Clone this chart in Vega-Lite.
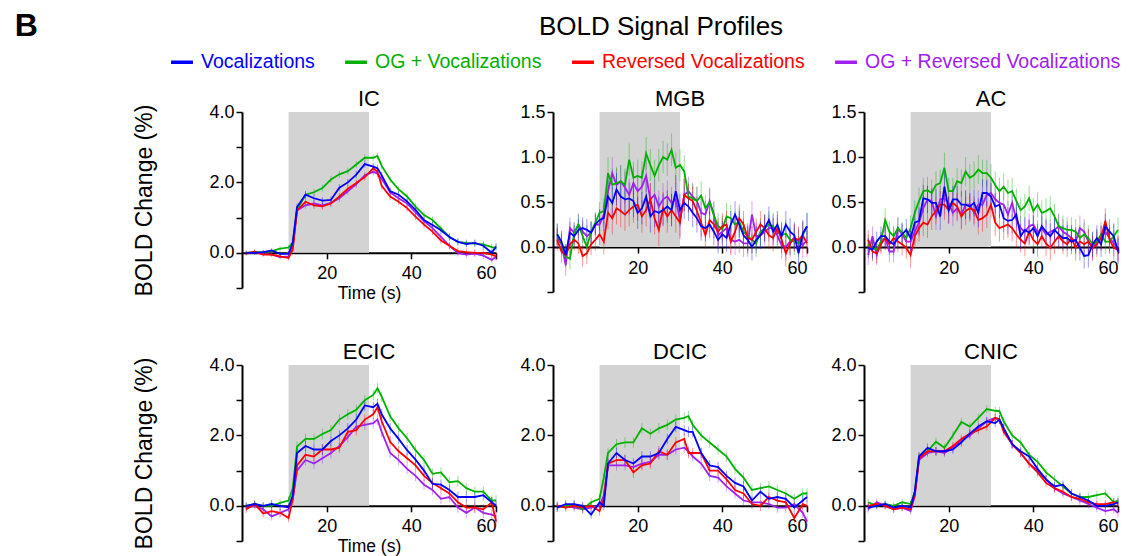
{
"$schema": "https://vega.github.io/schema/vega-lite/v6.json",
"padding": {"left": 14, "top": 10, "right": 0, "bottom": 0},
"config": {
 "font": "Liberation Sans",
 "view": {"stroke": null},
 "axis": {"grid": false, "domainColor": "black", "domainWidth": 2, "tickColor": "black", "tickWidth": 1.5, "tickSize": 6, "labelFont": "Liberation Sans", "labelFontSize": 18, "labelColor": "black", "titleFont": "Liberation Sans", "titleColor": "black", "titleFontWeight": "normal", "zindex": 1, "labelOverlap": false},
 "title": {"font": "Liberation Sans", "fontSize": 22, "fontWeight": "normal", "color": "black", "offset": -8, "frame": "group"}
},
"title": {"text": "B", "orient": "left", "anchor": "end", "angle": 0, "align": "right", "baseline": "top", "offset": 73, "dy": -3, "fontSize": 32, "fontWeight": "bold", "frame": "bounds"},
"data": {"values": [
{"p":"IC","t":1,"V":0.0,"G":0.0,"R":-0.02,"P":0.0,"E":0.06},
{"p":"IC","t":3,"V":0.0,"G":0.02,"R":0.03,"P":0.02,"E":0.06},
{"p":"IC","t":5,"V":0.02,"G":0.02,"R":-0.05,"P":-0.03,"E":0.06},
{"p":"IC","t":7,"V":0.07,"G":0.05,"R":-0.05,"P":-0.05,"E":0.06},
{"p":"IC","t":9,"V":-0.03,"G":0.12,"R":-0.1,"P":-0.12,"E":0.07},
{"p":"IC","t":11,"V":-0.03,"G":0.15,"R":-0.15,"P":-0.1,"E":0.07},
{"p":"IC","t":12,"V":0.3,"G":0.3,"R":0.1,"P":0.2,"E":0.08},
{"p":"IC","t":13,"V":1.3,"G":1.22,"R":1.2,"P":1.2,"E":0.1},
{"p":"IC","t":15,"V":1.65,"G":1.65,"R":1.45,"P":1.35,"E":0.1},
{"p":"IC","t":17,"V":1.55,"G":1.72,"R":1.35,"P":1.4,"E":0.1},
{"p":"IC","t":19,"V":1.48,"G":1.84,"R":1.32,"P":1.35,"E":0.1},
{"p":"IC","t":21,"V":1.5,"G":2.08,"R":1.4,"P":1.42,"E":0.1},
{"p":"IC","t":23,"V":1.85,"G":2.23,"R":1.6,"P":1.55,"E":0.1},
{"p":"IC","t":25,"V":2.0,"G":2.32,"R":1.82,"P":1.75,"E":0.1},
{"p":"IC","t":27,"V":2.22,"G":2.51,"R":1.98,"P":1.95,"E":0.1},
{"p":"IC","t":29,"V":2.52,"G":2.7,"R":2.15,"P":2.2,"E":0.1},
{"p":"IC","t":31,"V":2.45,"G":2.7,"R":2.4,"P":2.3,"E":0.1},
{"p":"IC","t":32,"V":2.4,"G":2.75,"R":2.3,"P":2.25,"E":0.1},
{"p":"IC","t":33,"V":2.2,"G":2.47,"R":1.9,"P":2.1,"E":0.1},
{"p":"IC","t":35,"V":1.75,"G":2.08,"R":1.6,"P":1.72,"E":0.1},
{"p":"IC","t":37,"V":1.65,"G":1.8,"R":1.45,"P":1.55,"E":0.1},
{"p":"IC","t":39,"V":1.46,"G":1.6,"R":1.27,"P":1.4,"E":0.1},
{"p":"IC","t":41,"V":1.22,"G":1.31,"R":1.03,"P":1.15,"E":0.1},
{"p":"IC","t":43,"V":0.93,"G":1.07,"R":0.8,"P":0.9,"E":0.1},
{"p":"IC","t":45,"V":0.79,"G":0.93,"R":0.6,"P":0.7,"E":0.1},
{"p":"IC","t":47,"V":0.64,"G":0.69,"R":0.35,"P":0.45,"E":0.1},
{"p":"IC","t":49,"V":0.45,"G":0.45,"R":0.2,"P":0.2,"E":0.1},
{"p":"IC","t":51,"V":0.31,"G":0.31,"R":0.05,"P":0.0,"E":0.1},
{"p":"IC","t":53,"V":0.25,"G":0.28,"R":0.02,"P":-0.05,"E":0.1},
{"p":"IC","t":55,"V":0.28,"G":0.26,"R":0.0,"P":-0.02,"E":0.1},
{"p":"IC","t":57,"V":0.2,"G":0.24,"R":0.0,"P":-0.08,"E":0.1},
{"p":"IC","t":59,"V":0.0,"G":0.16,"R":-0.05,"P":-0.2,"E":0.1},
{"p":"IC","t":60,"V":0.18,"G":0.14,"R":-0.1,"P":-0.12,"E":0.1},
{"p":"ECIC","t":1,"V":0.0,"G":0.0,"R":-0.1,"P":-0.05,"E":0.1},
{"p":"ECIC","t":3,"V":0.05,"G":0.05,"R":0.05,"P":0.0,"E":0.1},
{"p":"ECIC","t":5,"V":0.0,"G":0.0,"R":-0.22,"P":-0.1,"E":0.1},
{"p":"ECIC","t":7,"V":0.05,"G":0.0,"R":-0.15,"P":-0.3,"E":0.12},
{"p":"ECIC","t":9,"V":0.0,"G":0.08,"R":-0.2,"P":-0.2,"E":0.12},
{"p":"ECIC","t":11,"V":-0.05,"G":0.15,"R":-0.35,"P":-0.1,"E":0.12},
{"p":"ECIC","t":12,"V":0.3,"G":0.5,"R":0.2,"P":0.2,"E":0.12},
{"p":"ECIC","t":13,"V":1.5,"G":1.68,"R":1.15,"P":1.0,"E":0.15},
{"p":"ECIC","t":15,"V":1.7,"G":1.9,"R":1.45,"P":1.3,"E":0.15},
{"p":"ECIC","t":17,"V":1.6,"G":1.9,"R":1.4,"P":1.2,"E":0.15},
{"p":"ECIC","t":19,"V":1.6,"G":2.04,"R":1.6,"P":1.35,"E":0.15},
{"p":"ECIC","t":21,"V":1.84,"G":2.15,"R":1.6,"P":1.5,"E":0.15},
{"p":"ECIC","t":23,"V":2.0,"G":2.45,"R":1.65,"P":1.7,"E":0.15},
{"p":"ECIC","t":25,"V":2.2,"G":2.6,"R":2.1,"P":1.95,"E":0.15},
{"p":"ECIC","t":27,"V":2.45,"G":2.73,"R":2.15,"P":2.25,"E":0.15},
{"p":"ECIC","t":29,"V":2.85,"G":3.0,"R":2.45,"P":2.3,"E":0.15},
{"p":"ECIC","t":31,"V":2.8,"G":3.15,"R":2.6,"P":2.35,"E":0.15},
{"p":"ECIC","t":32,"V":2.9,"G":3.34,"R":2.8,"P":2.45,"E":0.15},
{"p":"ECIC","t":33,"V":2.6,"G":3.1,"R":2.4,"P":2.1,"E":0.15},
{"p":"ECIC","t":35,"V":2.2,"G":2.54,"R":1.82,"P":1.5,"E":0.15},
{"p":"ECIC","t":37,"V":1.9,"G":2.2,"R":1.55,"P":1.3,"E":0.15},
{"p":"ECIC","t":39,"V":1.58,"G":1.92,"R":1.35,"P":1.05,"E":0.15},
{"p":"ECIC","t":41,"V":1.31,"G":1.58,"R":1.15,"P":0.85,"E":0.15},
{"p":"ECIC","t":43,"V":1.0,"G":1.3,"R":0.85,"P":0.6,"E":0.15},
{"p":"ECIC","t":45,"V":0.62,"G":0.91,"R":0.65,"P":0.45,"E":0.15},
{"p":"ECIC","t":47,"V":0.6,"G":0.95,"R":0.5,"P":0.2,"E":0.15},
{"p":"ECIC","t":49,"V":0.45,"G":0.67,"R":0.35,"P":0.25,"E":0.15},
{"p":"ECIC","t":51,"V":0.25,"G":0.7,"R":0.1,"P":-0.05,"E":0.15},
{"p":"ECIC","t":53,"V":0.25,"G":0.5,"R":-0.05,"P":-0.2,"E":0.15},
{"p":"ECIC","t":55,"V":0.25,"G":0.4,"R":-0.05,"P":-0.05,"E":0.15},
{"p":"ECIC","t":57,"V":0.3,"G":0.4,"R":-0.1,"P":-0.2,"E":0.15},
{"p":"ECIC","t":59,"V":0.1,"G":0.15,"R":0.1,"P":-0.25,"E":0.15},
{"p":"ECIC","t":60,"V":0.0,"G":0.15,"R":-0.45,"P":-0.3,"E":0.15},
{"p":"DCIC","t":1,"V":-0.05,"G":-0.05,"R":0.0,"P":0.0,"E":0.12},
{"p":"DCIC","t":3,"V":0.05,"G":0.0,"R":-0.05,"P":0.0,"E":0.12},
{"p":"DCIC","t":5,"V":0.05,"G":0.02,"R":0.0,"P":-0.05,"E":0.12},
{"p":"DCIC","t":7,"V":0.0,"G":-0.1,"R":-0.05,"P":-0.1,"E":0.12},
{"p":"DCIC","t":9,"V":-0.25,"G":0.1,"R":0.0,"P":-0.05,"E":0.12},
{"p":"DCIC","t":11,"V":0.1,"G":0.2,"R":-0.15,"P":0.0,"E":0.12},
{"p":"DCIC","t":12,"V":0.0,"G":0.8,"R":0.2,"P":0.3,"E":0.12},
{"p":"DCIC","t":13,"V":1.2,"G":1.5,"R":1.2,"P":1.15,"E":0.15},
{"p":"DCIC","t":15,"V":1.5,"G":1.75,"R":1.3,"P":1.15,"E":0.15},
{"p":"DCIC","t":17,"V":1.3,"G":1.8,"R":1.3,"P":1.15,"E":0.15},
{"p":"DCIC","t":19,"V":1.2,"G":1.8,"R":0.95,"P":1.1,"E":0.15},
{"p":"DCIC","t":21,"V":1.4,"G":2.2,"R":1.15,"P":1.2,"E":0.15},
{"p":"DCIC","t":23,"V":1.4,"G":2.05,"R":1.2,"P":1.25,"E":0.15},
{"p":"DCIC","t":25,"V":1.5,"G":2.2,"R":1.55,"P":1.45,"E":0.15},
{"p":"DCIC","t":27,"V":1.9,"G":2.3,"R":1.45,"P":1.45,"E":0.15},
{"p":"DCIC","t":29,"V":2.24,"G":2.45,"R":1.8,"P":1.6,"E":0.15},
{"p":"DCIC","t":31,"V":2.15,"G":2.5,"R":1.9,"P":1.65,"E":0.15},
{"p":"DCIC","t":32,"V":2.1,"G":2.55,"R":1.5,"P":1.55,"E":0.15},
{"p":"DCIC","t":33,"V":2.1,"G":2.3,"R":1.5,"P":1.4,"E":0.15},
{"p":"DCIC","t":35,"V":1.5,"G":2.0,"R":1.5,"P":1.2,"E":0.15},
{"p":"DCIC","t":37,"V":1.15,"G":1.8,"R":1.0,"P":0.85,"E":0.15},
{"p":"DCIC","t":39,"V":1.1,"G":1.6,"R":1.0,"P":0.8,"E":0.15},
{"p":"DCIC","t":41,"V":0.85,"G":1.4,"R":0.75,"P":0.55,"E":0.15},
{"p":"DCIC","t":43,"V":0.65,"G":1.05,"R":0.45,"P":0.35,"E":0.15},
{"p":"DCIC","t":45,"V":0.55,"G":0.8,"R":0.35,"P":0.15,"E":0.15},
{"p":"DCIC","t":47,"V":0.15,"G":0.45,"R":0.05,"P":0.1,"E":0.15},
{"p":"DCIC","t":49,"V":0.4,"G":0.5,"R":0.0,"P":0.1,"E":0.15},
{"p":"DCIC","t":51,"V":0.2,"G":0.55,"R":0.25,"P":0.05,"E":0.15},
{"p":"DCIC","t":53,"V":0.25,"G":0.45,"R":0.15,"P":-0.05,"E":0.15},
{"p":"DCIC","t":55,"V":0.2,"G":0.35,"R":0.1,"P":-0.05,"E":0.15},
{"p":"DCIC","t":57,"V":-0.05,"G":0.2,"R":-0.35,"P":0.05,"E":0.15},
{"p":"DCIC","t":59,"V":0.15,"G":0.35,"R":0.05,"P":-0.2,"E":0.15},
{"p":"DCIC","t":60,"V":0.25,"G":0.35,"R":0.0,"P":-0.45,"E":0.15},
{"p":"CNIC","t":1,"V":-0.05,"G":0.1,"R":0.0,"P":-0.1,"E":0.1},
{"p":"CNIC","t":3,"V":0.0,"G":0.0,"R":0.05,"P":0.1,"E":0.1},
{"p":"CNIC","t":5,"V":0.05,"G":0.05,"R":0.0,"P":0.0,"E":0.1},
{"p":"CNIC","t":7,"V":-0.05,"G":0.0,"R":-0.1,"P":-0.1,"E":0.1},
{"p":"CNIC","t":9,"V":0.0,"G":0.1,"R":-0.05,"P":-0.05,"E":0.1},
{"p":"CNIC","t":11,"V":-0.05,"G":0.05,"R":-0.1,"P":-0.15,"E":0.1},
{"p":"CNIC","t":12,"V":0.4,"G":0.4,"R":0.3,"P":0.3,"E":0.1},
{"p":"CNIC","t":13,"V":1.4,"G":1.4,"R":1.35,"P":1.3,"E":0.12},
{"p":"CNIC","t":15,"V":1.65,"G":1.55,"R":1.55,"P":1.5,"E":0.12},
{"p":"CNIC","t":17,"V":1.55,"G":1.82,"R":1.55,"P":1.55,"E":0.12},
{"p":"CNIC","t":19,"V":1.55,"G":1.65,"R":1.55,"P":1.5,"E":0.12},
{"p":"CNIC","t":21,"V":1.6,"G":2.0,"R":1.7,"P":1.65,"E":0.12},
{"p":"CNIC","t":23,"V":1.8,"G":2.38,"R":1.9,"P":1.85,"E":0.12},
{"p":"CNIC","t":25,"V":2.05,"G":2.25,"R":2.05,"P":2.0,"E":0.12},
{"p":"CNIC","t":27,"V":2.25,"G":2.5,"R":2.15,"P":2.2,"E":0.12},
{"p":"CNIC","t":29,"V":2.4,"G":2.75,"R":2.25,"P":2.4,"E":0.12},
{"p":"CNIC","t":31,"V":2.35,"G":2.7,"R":2.5,"P":2.5,"E":0.12},
{"p":"CNIC","t":32,"V":2.45,"G":2.69,"R":2.45,"P":2.45,"E":0.12},
{"p":"CNIC","t":33,"V":2.2,"G":2.4,"R":2.1,"P":2.2,"E":0.12},
{"p":"CNIC","t":35,"V":1.75,"G":2.0,"R":1.75,"P":1.75,"E":0.12},
{"p":"CNIC","t":37,"V":1.55,"G":1.8,"R":1.5,"P":1.5,"E":0.12},
{"p":"CNIC","t":39,"V":1.4,"G":1.45,"R":1.2,"P":1.2,"E":0.12},
{"p":"CNIC","t":41,"V":1.05,"G":1.25,"R":0.95,"P":1.0,"E":0.12},
{"p":"CNIC","t":43,"V":0.75,"G":0.95,"R":0.65,"P":0.75,"E":0.12},
{"p":"CNIC","t":45,"V":0.55,"G":0.75,"R":0.5,"P":0.5,"E":0.12},
{"p":"CNIC","t":47,"V":0.6,"G":0.55,"R":0.4,"P":0.35,"E":0.12},
{"p":"CNIC","t":49,"V":0.35,"G":0.35,"R":0.25,"P":0.25,"E":0.12},
{"p":"CNIC","t":51,"V":0.25,"G":0.25,"R":0.2,"P":0.15,"E":0.12},
{"p":"CNIC","t":53,"V":0.15,"G":0.25,"R":0.1,"P":0.05,"E":0.12},
{"p":"CNIC","t":55,"V":0.0,"G":0.3,"R":0.05,"P":-0.05,"E":0.12},
{"p":"CNIC","t":57,"V":0.0,"G":0.35,"R":0.05,"P":-0.15,"E":0.12},
{"p":"CNIC","t":59,"V":0.05,"G":0.1,"R":0.1,"P":-0.1,"E":0.12},
{"p":"CNIC","t":60,"V":0.1,"G":0.15,"R":0.05,"P":-0.2,"E":0.12},
{"p":"MGB","t":1,"V":0.14,"G":0.14,"R":0.08,"P":0.1,"E":0.12},
{"p":"MGB","t":2,"V":0.06,"G":0.04,"R":-0.05,"P":0.03,"E":0.12},
{"p":"MGB","t":3,"V":-0.09,"G":-0.11,"R":-0.09,"P":-0.2,"E":0.12},
{"p":"MGB","t":4,"V":0.16,"G":-0.13,"R":0.03,"P":0.21,"E":0.12},
{"p":"MGB","t":5,"V":0.12,"G":0.15,"R":0.08,"P":0.16,"E":0.12},
{"p":"MGB","t":6,"V":0.19,"G":0.25,"R":0.04,"P":0.25,"E":0.12},
{"p":"MGB","t":7,"V":0.21,"G":0.12,"R":-0.1,"P":0.17,"E":0.12},
{"p":"MGB","t":8,"V":0.19,"G":0.0,"R":-0.07,"P":0.12,"E":0.12},
{"p":"MGB","t":9,"V":0.16,"G":0.17,"R":0.03,"P":0.16,"E":0.12},
{"p":"MGB","t":10,"V":0.25,"G":0.27,"R":0.08,"P":0.25,"E":0.12},
{"p":"MGB","t":11,"V":0.3,"G":0.38,"R":0.14,"P":0.25,"E":0.12},
{"p":"MGB","t":12,"V":0.32,"G":0.4,"R":0.06,"P":0.36,"E":0.14},
{"p":"MGB","t":13,"V":0.56,"G":0.82,"R":0.38,"P":0.62,"E":0.18},
{"p":"MGB","t":14,"V":0.49,"G":0.69,"R":0.32,"P":0.82,"E":0.18},
{"p":"MGB","t":15,"V":0.64,"G":0.71,"R":0.43,"P":0.69,"E":0.18},
{"p":"MGB","t":16,"V":0.56,"G":0.73,"R":0.4,"P":0.73,"E":0.18},
{"p":"MGB","t":17,"V":0.53,"G":0.69,"R":0.36,"P":0.66,"E":0.18},
{"p":"MGB","t":18,"V":0.54,"G":0.97,"R":0.41,"P":0.58,"E":0.18},
{"p":"MGB","t":19,"V":0.51,"G":0.77,"R":0.45,"P":0.71,"E":0.18},
{"p":"MGB","t":20,"V":0.38,"G":0.79,"R":0.47,"P":0.62,"E":0.18},
{"p":"MGB","t":21,"V":0.43,"G":0.77,"R":0.34,"P":0.67,"E":0.18},
{"p":"MGB","t":22,"V":0.56,"G":1.04,"R":0.41,"P":0.79,"E":0.18},
{"p":"MGB","t":23,"V":0.34,"G":0.91,"R":0.53,"P":0.53,"E":0.18},
{"p":"MGB","t":24,"V":0.4,"G":0.79,"R":0.32,"P":0.58,"E":0.18},
{"p":"MGB","t":25,"V":0.38,"G":0.91,"R":0.19,"P":0.45,"E":0.18},
{"p":"MGB","t":26,"V":0.41,"G":1.0,"R":0.43,"P":0.53,"E":0.18},
{"p":"MGB","t":27,"V":0.45,"G":0.97,"R":0.34,"P":0.56,"E":0.18},
{"p":"MGB","t":28,"V":0.41,"G":1.08,"R":0.41,"P":0.49,"E":0.18},
{"p":"MGB","t":29,"V":0.62,"G":0.88,"R":0.34,"P":0.53,"E":0.18},
{"p":"MGB","t":30,"V":0.41,"G":0.91,"R":0.27,"P":0.3,"E":0.18},
{"p":"MGB","t":31,"V":0.49,"G":0.84,"R":0.58,"P":0.58,"E":0.18},
{"p":"MGB","t":32,"V":0.45,"G":0.56,"R":0.54,"P":0.62,"E":0.16},
{"p":"MGB","t":33,"V":0.38,"G":0.54,"R":0.51,"P":0.56,"E":0.16},
{"p":"MGB","t":34,"V":0.32,"G":0.51,"R":0.4,"P":0.51,"E":0.16},
{"p":"MGB","t":35,"V":0.23,"G":0.57,"R":0.27,"P":0.38,"E":0.16},
{"p":"MGB","t":36,"V":0.21,"G":0.43,"R":0.13,"P":0.36,"E":0.15},
{"p":"MGB","t":37,"V":0.25,"G":0.5,"R":0.3,"P":0.51,"E":0.15},
{"p":"MGB","t":38,"V":0.17,"G":0.35,"R":0.25,"P":0.36,"E":0.15},
{"p":"MGB","t":39,"V":0.08,"G":0.23,"R":0.17,"P":0.13,"E":0.15},
{"p":"MGB","t":40,"V":0.14,"G":0.2,"R":0.23,"P":0.17,"E":0.15},
{"p":"MGB","t":41,"V":0.1,"G":0.34,"R":0.25,"P":0.21,"E":0.15},
{"p":"MGB","t":42,"V":0.25,"G":0.32,"R":0.06,"P":0.08,"E":0.15},
{"p":"MGB","t":43,"V":0.36,"G":0.25,"R":0.17,"P":0.06,"E":0.15},
{"p":"MGB","t":44,"V":0.25,"G":0.28,"R":0.32,"P":0.08,"E":0.15},
{"p":"MGB","t":45,"V":0.13,"G":0.17,"R":0.25,"P":0.04,"E":0.15},
{"p":"MGB","t":46,"V":0.08,"G":0.12,"R":0.1,"P":0.04,"E":0.15},
{"p":"MGB","t":47,"V":0.0,"G":0.08,"R":0.08,"P":0.36,"E":0.15},
{"p":"MGB","t":48,"V":0.08,"G":0.04,"R":0.17,"P":0.12,"E":0.15},
{"p":"MGB","t":49,"V":0.13,"G":0.17,"R":0.25,"P":0.13,"E":0.15},
{"p":"MGB","t":50,"V":0.21,"G":0.21,"R":0.21,"P":0.17,"E":0.15},
{"p":"MGB","t":51,"V":0.3,"G":0.25,"R":0.13,"P":0.21,"E":0.15},
{"p":"MGB","t":52,"V":0.17,"G":0.23,"R":0.1,"P":0.21,"E":0.15},
{"p":"MGB","t":53,"V":0.25,"G":0.17,"R":0.21,"P":0.13,"E":0.15},
{"p":"MGB","t":54,"V":0.12,"G":0.13,"R":0.08,"P":0.02,"E":0.15},
{"p":"MGB","t":55,"V":0.25,"G":0.15,"R":-0.07,"P":0.0,"E":0.15},
{"p":"MGB","t":56,"V":0.17,"G":0.08,"R":0.04,"P":0.06,"E":0.15},
{"p":"MGB","t":57,"V":0.13,"G":0.06,"R":0.1,"P":0.1,"E":0.15},
{"p":"MGB","t":58,"V":-0.07,"G":0.04,"R":0.08,"P":0.06,"E":0.15},
{"p":"MGB","t":59,"V":0.15,"G":0.13,"R":0.13,"P":0.02,"E":0.15},
{"p":"MGB","t":60,"V":0.23,"G":0.23,"R":0.04,"P":0.08,"E":0.15},
{"p":"AC","t":1,"V":-0.01,"G":0.03,"R":0.08,"P":-0.09,"E":0.11},
{"p":"AC","t":2,"V":-0.03,"G":-0.01,"R":-0.05,"P":0.12,"E":0.11},
{"p":"AC","t":3,"V":0.06,"G":-0.03,"R":-0.07,"P":-0.09,"E":0.11},
{"p":"AC","t":4,"V":0.12,"G":0.06,"R":0.03,"P":0.06,"E":0.11},
{"p":"AC","t":5,"V":0.12,"G":0.3,"R":0.1,"P":0.1,"E":0.13},
{"p":"AC","t":6,"V":0.06,"G":0.17,"R":0.03,"P":-0.05,"E":0.12},
{"p":"AC","t":7,"V":0.03,"G":0.12,"R":0.1,"P":-0.05,"E":0.12},
{"p":"AC","t":8,"V":0.1,"G":0.21,"R":0.06,"P":0.21,"E":0.12},
{"p":"AC","t":9,"V":0.14,"G":0.16,"R":0.03,"P":0.14,"E":0.12},
{"p":"AC","t":10,"V":0.19,"G":0.1,"R":-0.01,"P":0.06,"E":0.12},
{"p":"AC","t":11,"V":0.1,"G":0.21,"R":-0.09,"P":0.06,"E":0.14},
{"p":"AC","t":12,"V":0.27,"G":0.38,"R":0.12,"P":0.17,"E":0.14},
{"p":"AC","t":13,"V":0.29,"G":0.51,"R":0.21,"P":0.27,"E":0.15},
{"p":"AC","t":14,"V":0.54,"G":0.62,"R":0.27,"P":0.43,"E":0.15},
{"p":"AC","t":15,"V":0.53,"G":0.63,"R":0.25,"P":0.53,"E":0.15},
{"p":"AC","t":16,"V":0.49,"G":0.6,"R":0.34,"P":0.51,"E":0.15},
{"p":"AC","t":17,"V":0.49,"G":0.69,"R":0.4,"P":0.34,"E":0.15},
{"p":"AC","t":18,"V":0.34,"G":0.71,"R":0.47,"P":0.53,"E":0.15},
{"p":"AC","t":19,"V":0.67,"G":0.88,"R":0.47,"P":0.54,"E":0.17},
{"p":"AC","t":20,"V":0.41,"G":0.62,"R":0.41,"P":0.49,"E":0.15},
{"p":"AC","t":21,"V":0.53,"G":0.62,"R":0.49,"P":0.38,"E":0.15},
{"p":"AC","t":22,"V":0.53,"G":0.73,"R":0.45,"P":0.43,"E":0.15},
{"p":"AC","t":23,"V":0.47,"G":0.71,"R":0.34,"P":0.36,"E":0.15},
{"p":"AC","t":24,"V":0.47,"G":0.84,"R":0.4,"P":0.47,"E":0.16},
{"p":"AC","t":25,"V":0.45,"G":0.77,"R":0.43,"P":0.47,"E":0.15},
{"p":"AC","t":26,"V":0.49,"G":0.8,"R":0.41,"P":0.38,"E":0.15},
{"p":"AC","t":27,"V":0.38,"G":0.86,"R":0.3,"P":0.47,"E":0.16},
{"p":"AC","t":28,"V":0.6,"G":0.82,"R":0.32,"P":0.47,"E":0.15},
{"p":"AC","t":29,"V":0.6,"G":0.82,"R":0.36,"P":0.58,"E":0.15},
{"p":"AC","t":30,"V":0.56,"G":0.77,"R":0.47,"P":0.6,"E":0.15},
{"p":"AC","t":31,"V":0.45,"G":0.69,"R":0.27,"P":0.53,"E":0.15},
{"p":"AC","t":32,"V":0.47,"G":0.62,"R":0.21,"P":0.49,"E":0.15},
{"p":"AC","t":33,"V":0.32,"G":0.67,"R":0.23,"P":0.47,"E":0.15},
{"p":"AC","t":34,"V":0.29,"G":0.6,"R":0.25,"P":0.36,"E":0.15},
{"p":"AC","t":35,"V":0.3,"G":0.62,"R":0.21,"P":0.49,"E":0.15},
{"p":"AC","t":36,"V":0.36,"G":0.51,"R":0.14,"P":0.3,"E":0.14},
{"p":"AC","t":37,"V":0.12,"G":0.41,"R":0.08,"P":0.21,"E":0.14},
{"p":"AC","t":38,"V":0.19,"G":0.45,"R":0.04,"P":0.17,"E":0.14},
{"p":"AC","t":39,"V":0.16,"G":0.54,"R":0.17,"P":0.23,"E":0.14},
{"p":"AC","t":40,"V":0.21,"G":0.4,"R":0.08,"P":0.25,"E":0.14},
{"p":"AC","t":41,"V":0.12,"G":0.47,"R":0.03,"P":0.16,"E":0.14},
{"p":"AC","t":42,"V":0.23,"G":0.38,"R":0.12,"P":0.21,"E":0.14},
{"p":"AC","t":43,"V":0.17,"G":0.4,"R":0.04,"P":0.14,"E":0.14},
{"p":"AC","t":44,"V":0.12,"G":0.43,"R":-0.01,"P":0.17,"E":0.14},
{"p":"AC","t":45,"V":0.19,"G":0.34,"R":0.06,"P":0.19,"E":0.14},
{"p":"AC","t":46,"V":0.14,"G":0.23,"R":0.12,"P":0.23,"E":0.14},
{"p":"AC","t":47,"V":0.1,"G":0.21,"R":0.06,"P":0.17,"E":0.14},
{"p":"AC","t":48,"V":0.1,"G":0.19,"R":0.03,"P":0.14,"E":0.14},
{"p":"AC","t":49,"V":0.06,"G":0.19,"R":0.1,"P":0.1,"E":0.14},
{"p":"AC","t":50,"V":0.08,"G":0.17,"R":-0.01,"P":0.06,"E":0.14},
{"p":"AC","t":51,"V":-0.01,"G":0.1,"R":0.06,"P":0.21,"E":0.14},
{"p":"AC","t":52,"V":-0.1,"G":0.14,"R":0.03,"P":0.17,"E":0.14},
{"p":"AC","t":53,"V":-0.09,"G":0.1,"R":0.06,"P":0.06,"E":0.14},
{"p":"AC","t":54,"V":0.03,"G":0.03,"R":-0.01,"P":-0.01,"E":0.14},
{"p":"AC","t":55,"V":0.1,"G":0.06,"R":0.03,"P":0.06,"E":0.14},
{"p":"AC","t":56,"V":0.03,"G":0.14,"R":0.1,"P":0.1,"E":0.14},
{"p":"AC","t":57,"V":0.23,"G":0.06,"R":0.29,"P":0.17,"E":0.14},
{"p":"AC","t":58,"V":0.17,"G":0.06,"R":0.08,"P":0.1,"E":0.14},
{"p":"AC","t":59,"V":0.12,"G":0.12,"R":-0.01,"P":0.04,"E":0.14},
{"p":"AC","t":60,"V":-0.05,"G":0.19,"R":-0.03,"P":-0.01,"E":0.14}
]},
"spacing": 38,
"vconcat": [
{"spacing": 57, "bounds": "flush", "hconcat": [
 {"width": 254, "height": 176, "title": "IC", "layer": [
  {"data": {"values": [{"on": 11, "off": 30}]}, "mark": {"type": "rect", "color": "#d3d3d3"},
   "encoding": {"x": {"field": "on", "type": "quantitative", "title": "Time (s)", "scale": {"domain": [0, 60], "nice": false}, "axis": {"values": [20, 40, 60], "offset": -35.2, "titleFontSize": 17.5, "titlePadding": 2, "labelPadding": 6}},
    "x2": {"field": "off"},
    "y": {"datum": 4, "type": "quantitative", "title": "BOLD Change (%)", "scale": {"domain": [-1, 4], "nice": false}, "axis": {"values": [-1, 0, 1, 2, 3, 4], "tickCount": 10, "format": ".1f", "labelOverlap": false, "labelExpr": "datum.value >= 0 && datum.value != 1 && datum.value != 3 ? datum.label : ''", "titleFontSize": 23, "titlePadding": 52}},
    "y2": {"datum": 0}}},
  {"transform": [{"filter": "datum.p == 'IC'"}, {"fold": ["P", "G", "R", "V"], "as": ["s", "v"]}], "mark": {"type": "errorbar", "opacity": 0.4, "thickness": 1},
   "encoding": {"x": {"field": "t", "type": "quantitative", "title": "Time (s)"}, "y": {"field": "v", "type": "quantitative", "title": "BOLD Change (%)"}, "yError": {"field": "E"}, "color": {"field": "s", "type": "nominal", "scale": {"domain": ["V", "G", "R", "P"], "range": ["#0000ff", "#00b000", "#ff0000", "#a020f0"]}}}},
  {"transform": [{"filter": "datum.p == 'IC'"}, {"fold": ["P", "G", "R", "V"], "as": ["s", "v"]}], "mark": {"type": "line", "strokeWidth": 1.8},
   "encoding": {"x": {"field": "t", "type": "quantitative", "title": "Time (s)"}, "y": {"field": "v", "type": "quantitative", "title": "BOLD Change (%)"},
    "color": {"field": "s", "type": "nominal", "scale": {"domain": ["V", "G", "R", "P"], "range": ["#0000ff", "#00b000", "#ff0000", "#a020f0"]},
     "legend": {"title": "BOLD Signal Profiles", "orient": "none", "legendX": -73, "legendY": -98, "direction": "horizontal", "columns": 4, "columnPadding": 23, "padding": 0, "titleAnchor": "middle", "titleFontSize": 26, "titleFontWeight": "normal", "titleFont": "Liberation Sans", "titleColor": "black", "titlePadding": 9, "titleLimit": 800, "labelFont": "Liberation Sans", "labelFontSize": 19.5, "labelLimit": 400, "labelOffset": 6, "symbolType": "stroke", "symbolStrokeWidth": 3.5, "symbolSize": 480, "symbolOpacity": 1,
      "labelExpr": "{'V': 'Vocalizations', 'G': 'OG + Vocalizations', 'R': 'Reversed Vocalizations', 'P': 'OG + Reversed Vocalizations'}[datum.value]",
      "encode": {"labels": {"update": {"fill": {"scale": "color", "field": "value"}}}, "title": {"update": {"dx": {"value": 16}}}}}}}}
 ]},
 {"width": 254, "height": 180, "title": "MGB", "layer": [
  {"data": {"values": [{"on": 11, "off": 30}]}, "mark": {"type": "rect", "color": "#d3d3d3"},
   "encoding": {"x": {"field": "on", "type": "quantitative", "title": null, "scale": {"domain": [0, 60], "nice": false}, "axis": {"values": [20, 40, 60], "offset": -45, "labelPadding": 6}},
    "x2": {"field": "off"},
    "y": {"datum": 1.5, "type": "quantitative", "title": null, "scale": {"domain": [-0.5, 1.5], "nice": false}, "axis": {"values": [-0.5, 0, 0.5, 1, 1.5], "tickCount": 10, "labelExpr": "datum.value >= 0 ? format(datum.value, '.1f') : ''"}},
    "y2": {"datum": 0}}},
  {"transform": [{"filter": "datum.p == 'MGB'"}, {"fold": ["P", "G", "R", "V"], "as": ["s", "v"]}], "mark": {"type": "errorbar", "opacity": 0.4, "thickness": 1},
   "encoding": {"x": {"field": "t", "type": "quantitative", "title": null}, "y": {"field": "v", "type": "quantitative", "title": null}, "yError": {"field": "E"}, "color": {"field": "s", "type": "nominal"}}},
  {"transform": [{"filter": "datum.p == 'MGB'"}, {"fold": ["P", "G", "R", "V"], "as": ["s", "v"]}], "mark": {"type": "line", "strokeWidth": 1.8},
   "encoding": {"x": {"field": "t", "type": "quantitative", "title": null}, "y": {"field": "v", "type": "quantitative", "title": null}, "color": {"field": "s", "type": "nominal"}}}
 ]},
 {"width": 254, "height": 180, "title": "AC", "layer": [
  {"data": {"values": [{"on": 11, "off": 30}]}, "mark": {"type": "rect", "color": "#d3d3d3"},
   "encoding": {"x": {"field": "on", "type": "quantitative", "title": null, "scale": {"domain": [0, 60], "nice": false}, "axis": {"values": [20, 40, 60], "offset": -45, "labelPadding": 6}},
    "x2": {"field": "off"},
    "y": {"datum": 1.5, "type": "quantitative", "title": null, "scale": {"domain": [-0.5, 1.5], "nice": false}, "axis": {"values": [-0.5, 0, 0.5, 1, 1.5], "tickCount": 10, "labelExpr": "datum.value >= 0 ? format(datum.value, '.1f') : ''"}},
    "y2": {"datum": 0}}},
  {"transform": [{"filter": "datum.p == 'AC'"}, {"fold": ["P", "G", "R", "V"], "as": ["s", "v"]}], "mark": {"type": "errorbar", "opacity": 0.4, "thickness": 1},
   "encoding": {"x": {"field": "t", "type": "quantitative", "title": null}, "y": {"field": "v", "type": "quantitative", "title": null}, "yError": {"field": "E"}, "color": {"field": "s", "type": "nominal"}}},
  {"transform": [{"filter": "datum.p == 'AC'"}, {"fold": ["P", "G", "R", "V"], "as": ["s", "v"]}], "mark": {"type": "line", "strokeWidth": 1.8},
   "encoding": {"x": {"field": "t", "type": "quantitative", "title": null}, "y": {"field": "v", "type": "quantitative", "title": null}, "color": {"field": "s", "type": "nominal"}}}
 ]}
]},
{"spacing": 57, "bounds": "flush", "hconcat": [
 {"width": 254, "height": 176, "title": "ECIC", "layer": [
  {"data": {"values": [{"on": 11, "off": 30}]}, "mark": {"type": "rect", "color": "#d3d3d3"},
   "encoding": {"x": {"field": "on", "type": "quantitative", "title": "Time (s)", "scale": {"domain": [0, 60], "nice": false}, "axis": {"values": [20, 40, 60], "offset": -35.2, "titleFontSize": 17.5, "titlePadding": 2, "labelPadding": 6}},
    "x2": {"field": "off"},
    "y": {"datum": 4, "type": "quantitative", "title": "BOLD Change (%)", "scale": {"domain": [-1, 4], "nice": false}, "axis": {"values": [-1, 0, 1, 2, 3, 4], "tickCount": 10, "format": ".1f", "labelOverlap": false, "labelExpr": "datum.value >= 0 && datum.value != 1 && datum.value != 3 ? datum.label : ''", "titleFontSize": 23, "titlePadding": 52}},
    "y2": {"datum": 0}}},
  {"transform": [{"filter": "datum.p == 'ECIC'"}, {"fold": ["P", "G", "R", "V"], "as": ["s", "v"]}], "mark": {"type": "errorbar", "opacity": 0.4, "thickness": 1},
   "encoding": {"x": {"field": "t", "type": "quantitative", "title": "Time (s)"}, "y": {"field": "v", "type": "quantitative", "title": "BOLD Change (%)"}, "yError": {"field": "E"}, "color": {"field": "s", "type": "nominal"}}},
  {"transform": [{"filter": "datum.p == 'ECIC'"}, {"fold": ["P", "G", "R", "V"], "as": ["s", "v"]}], "mark": {"type": "line", "strokeWidth": 1.8},
   "encoding": {"x": {"field": "t", "type": "quantitative", "title": "Time (s)"}, "y": {"field": "v", "type": "quantitative", "title": "BOLD Change (%)"}, "color": {"field": "s", "type": "nominal"}}}
 ]},
 {"width": 254, "height": 176, "title": "DCIC", "layer": [
  {"data": {"values": [{"on": 11, "off": 30}]}, "mark": {"type": "rect", "color": "#d3d3d3"},
   "encoding": {"x": {"field": "on", "type": "quantitative", "title": null, "scale": {"domain": [0, 60], "nice": false}, "axis": {"values": [20, 40, 60], "offset": -35.2, "labelPadding": 6}},
    "x2": {"field": "off"},
    "y": {"datum": 4, "type": "quantitative", "title": null, "scale": {"domain": [-1, 4], "nice": false}, "axis": {"values": [-1, 0, 1, 2, 3, 4], "tickCount": 10, "format": ".1f", "labelOverlap": false, "labelExpr": "datum.value >= 0 && datum.value != 1 && datum.value != 3 ? datum.label : ''"}},
    "y2": {"datum": 0}}},
  {"transform": [{"filter": "datum.p == 'DCIC'"}, {"fold": ["P", "G", "R", "V"], "as": ["s", "v"]}], "mark": {"type": "errorbar", "opacity": 0.4, "thickness": 1},
   "encoding": {"x": {"field": "t", "type": "quantitative", "title": null}, "y": {"field": "v", "type": "quantitative", "title": null}, "yError": {"field": "E"}, "color": {"field": "s", "type": "nominal"}}},
  {"transform": [{"filter": "datum.p == 'DCIC'"}, {"fold": ["P", "G", "R", "V"], "as": ["s", "v"]}], "mark": {"type": "line", "strokeWidth": 1.8},
   "encoding": {"x": {"field": "t", "type": "quantitative", "title": null}, "y": {"field": "v", "type": "quantitative", "title": null}, "color": {"field": "s", "type": "nominal"}}}
 ]},
 {"width": 254, "height": 176, "title": "CNIC", "layer": [
  {"data": {"values": [{"on": 11, "off": 30}]}, "mark": {"type": "rect", "color": "#d3d3d3"},
   "encoding": {"x": {"field": "on", "type": "quantitative", "title": null, "scale": {"domain": [0, 60], "nice": false}, "axis": {"values": [20, 40, 60], "offset": -35.2, "labelPadding": 6}},
    "x2": {"field": "off"},
    "y": {"datum": 4, "type": "quantitative", "title": null, "scale": {"domain": [-1, 4], "nice": false}, "axis": {"values": [-1, 0, 1, 2, 3, 4], "tickCount": 10, "format": ".1f", "labelOverlap": false, "labelExpr": "datum.value >= 0 && datum.value != 1 && datum.value != 3 ? datum.label : ''"}},
    "y2": {"datum": 0}}},
  {"transform": [{"filter": "datum.p == 'CNIC'"}, {"fold": ["P", "G", "R", "V"], "as": ["s", "v"]}], "mark": {"type": "errorbar", "opacity": 0.4, "thickness": 1},
   "encoding": {"x": {"field": "t", "type": "quantitative", "title": null}, "y": {"field": "v", "type": "quantitative", "title": null}, "yError": {"field": "E"}, "color": {"field": "s", "type": "nominal"}}},
  {"transform": [{"filter": "datum.p == 'CNIC'"}, {"fold": ["P", "G", "R", "V"], "as": ["s", "v"]}], "mark": {"type": "line", "strokeWidth": 1.8},
   "encoding": {"x": {"field": "t", "type": "quantitative", "title": null}, "y": {"field": "v", "type": "quantitative", "title": null}, "color": {"field": "s", "type": "nominal"}}}
 ]}
]}
]
}
